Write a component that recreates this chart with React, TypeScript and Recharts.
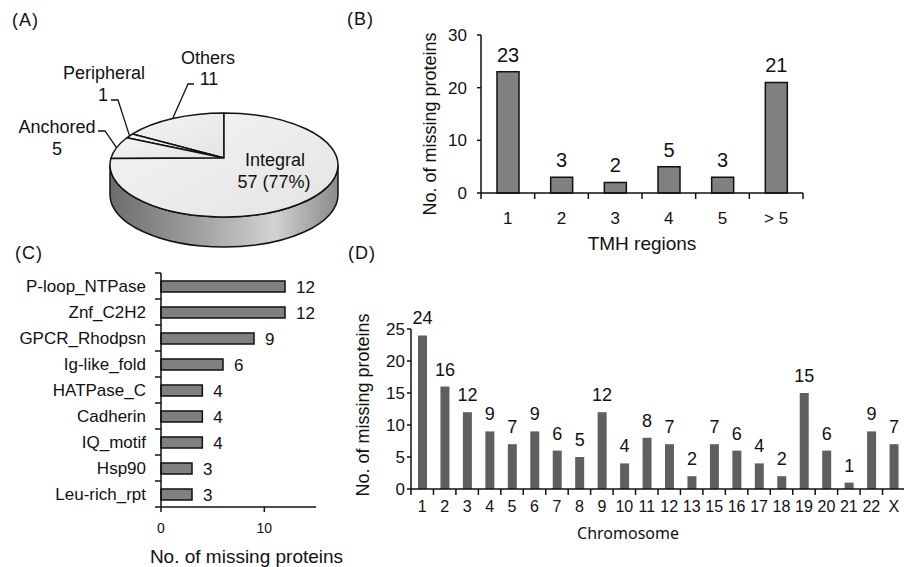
import { Bar, BarChart, LabelList, Pie, PieChart, XAxis, YAxis } from "recharts";

const FONT = '"Liberation Sans", Arial, Helvetica, sans-serif';
const INK = "#111111";

// (A) membrane protein types
const typeNames = ["Others", "Peripheral", "Anchored", "Integral"];
const typeCounts = [11, 1, 5, 57];

// (B) transmembrane helix regions
const tmhRegions = ["1", "2", "3", "4", "5", "> 5"];
const tmhCounts = [23, 3, 2, 5, 3, 21];

// (C) protein domains
const domainNames = [
	"P-loop_NTPase",
	"Znf_C2H2",
	"GPCR_Rhodpsn",
	"Ig-like_fold",
	"HATPase_C",
	"Cadherin",
	"IQ_motif",
	"Hsp90",
	"Leu-rich_rpt",
];
const domainCounts = [12, 12, 9, 6, 4, 4, 4, 3, 3];

// (D) chromosomes
const chromosomes = [
	"1", "2", "3", "4", "5", "6", "7", "8", "9", "10", "11",
	"12", "13", "15", "16", "17", "18", "19", "20", "21", "22", "X",
];
const chromosomeCounts = [24, 16, 12, 9, 7, 9, 6, 5, 12, 4, 8, 7, 2, 7, 6, 4, 2, 15, 6, 1, 9, 7];

const typeData = typeNames.map((name, i) => ({ name, value: typeCounts[i] }));
const tmhData = tmhRegions.map((region, i) => ({ region, count: tmhCounts[i] }));
const domainData = domainNames.map((name, i) => ({ name, count: domainCounts[i] }));
const chromData = chromosomes.map((chr, i) => ({ chr, count: chromosomeCounts[i] }));

// chart boxes
const B = { w: 410, h: 260, top: 35, right: 7, yw: 81, xh: 67 };
const C = { w: 370, h: 317, top: 23, right: 54, yw: 161, xh: 60 };
const D = { w: 580, h: 287, top: 49, right: 5, yw: 81, xh: 78 };
const MARK = 6;

// --- 3D pie helpers ---
const RY_RATIO = 52 / 114;
const RIM = 30;
const TILT = 7;
const rad = (d: number) => (d * Math.PI) / 180;
const rimPt = (cx: number, cy: number, rx: number, deg: number, drop = 0) => ({
	x: cx + rx * Math.cos(rad(deg)),
	y: cy + TILT + drop - rx * RY_RATIO * Math.sin(rad(deg)),
});

// where the callout texts sit, relative to the pie centre
const callouts = [
	{ t1: [-16, -100], t2: [-15, -79], line: [[-36, -74], [-30, -74]], pct: false },
	{ t1: [-120, -85], t2: [-121, -63], line: [[-106, -58], [-113, -58]], pct: false },
	{ t1: [-167, -31], t2: [-167, -9], line: [[-119, -27], [-126, -27]], pct: false },
	{ t1: [51, 2], t2: [50, 24], line: [], pct: true },
];

const renderSlice = (p: any) => {
	const { cx, cy, outerRadius: rx, startAngle, endAngle, midAngle, index, value, percent } = p;
	const ry = rx * RY_RATIO;
	const a = rimPt(cx, cy, rx, startAngle);
	const b = rimPt(cx, cy, rx, endAngle);
	const large = endAngle - startAngle > 180 ? 1 : 0;
	const top = `M${cx},${cy} L${a.x},${a.y} A${rx},${ry} 0 ${large} 0 ${b.x},${b.y} Z`;

	const sides: string[] = [];
	for (const base of [180, 540]) {
		const s1 = Math.max(startAngle, base);
		const s2 = Math.min(endAngle, base + 180);
		if (s2 > s1) {
			const q1 = rimPt(cx, cy, rx, s1);
			const q2 = rimPt(cx, cy, rx, s2);
			const q1d = rimPt(cx, cy, rx, s1, RIM);
			const q2d = rimPt(cx, cy, rx, s2, RIM);
			sides.push(
				`M${q1.x},${q1.y} A${rx},${ry} 0 0 0 ${q2.x},${q2.y} L${q2d.x},${q2d.y} A${rx},${ry} 0 0 1 ${q1d.x},${q1d.y} Z`,
			);
		}
	}

	const c = callouts[index];
	const edge = rimPt(cx, cy, rx, midAngle);
	const pts = [[edge.x, edge.y], ...c.line.map(([dx, dy]) => [cx + dx, cy + dy])];
	const second = c.pct ? `${value} (${Math.round(percent * 100)}%)` : String(value);

	return (
		<g key={`slice-${index}`}>
			{sides.map((d, i) => (
				<path key={i} d={d} fill="url(#pieSide)" stroke={INK} strokeWidth={1.5} />
			))}
			<path d={top} fill="url(#pieTop)" stroke={INK} strokeWidth={1.5} strokeLinejoin="round" />
			{c.line.length > 0 && (
				<polyline points={pts.map((q) => q.join(",")).join(" ")} fill="none" stroke={INK} strokeWidth={1.3} />
			)}
			<text x={cx + c.t1[0]} y={cy + c.t1[1]} textAnchor="middle" dominantBaseline="central" fontSize={18} fill={INK}>
				{typeNames[index]}
			</text>
			<text x={cx + c.t2[0]} y={cy + c.t2[1]} textAnchor="middle" dominantBaseline="central" fontSize={18} fill={INK}>
				{second}
			</text>
		</g>
	);
};

// category tick: label plus Excel-style tick marks on the band edges
const bottomTick = (margin: number, fontSize: number, plotWidth: number, n: number) => (props: any) => {
	const { x, y, payload, index } = props;
	const band = plotWidth / n;
	const ay = y - margin;
	const marks = [x - band / 2];
	if (index === n - 1) marks.push(x + band / 2);
	return (
		<g>
			{marks.map((mx) => (
				<line key={mx} x1={mx} x2={mx} y1={ay} y2={ay + MARK} stroke={INK} strokeWidth={1.5} />
			))}
			<text x={x} y={y} dy="0.71em" textAnchor="middle" fontSize={fontSize} fill={INK}>
				{payload.value}
			</text>
		</g>
	);
};

const leftTick = (margin: number, fontSize: number, plotHeight: number, n: number) => (props: any) => {
	const { x, y, payload, index } = props;
	const band = plotHeight / n;
	const ax = x + margin;
	const marks = [y - band / 2];
	if (index === n - 1) marks.push(y + band / 2);
	return (
		<g>
			{marks.map((my) => (
				<line key={my} x1={ax - MARK} x2={ax} y1={my} y2={my} stroke={INK} strokeWidth={1.5} />
			))}
			<text x={x} y={y} dy="0.355em" textAnchor="end" fontSize={fontSize} fill={INK}>
				{payload.value}
			</text>
		</g>
	);
};

// axis titles
const vTitle = (text: string, dx: number, dy: number, size: number) => (props: any) => {
	const vb = props.viewBox;
	const x = vb.x + dx;
	const y = vb.y + vb.height / 2 + dy;
	return (
		<text x={x} y={y} transform={`rotate(-90 ${x} ${y})`} textAnchor="middle" dominantBaseline="central" fontSize={size} fill={INK}>
			{text}
		</text>
	);
};
const hTitle = (text: string, dx: number, dy: number, size: number, family = FONT) => (props: any) => {
	const vb = props.viewBox;
	return (
		<text
			x={vb.x + vb.width / 2 + dx}
			y={vb.y + dy}
			textAnchor="middle"
			dominantBaseline="central"
			fontSize={size}
			fontFamily={family}
			fill={INK}
		>
			{text}
		</text>
	);
};

const axisLine = { stroke: INK, strokeWidth: 1.5 };
const tickLine = { stroke: INK, strokeWidth: 1.5 };

const PanelLetter = ({ text, left, top }: { text: string; left: number; top: number }) => (
	<div style={{ position: "absolute", left, top, fontSize: 18, lineHeight: "18px", letterSpacing: 1, color: INK }}>
		{text}
	</div>
);

export default function App() {
	return (
		<div
			style={{
				position: "absolute",
				left: 0,
				top: 0,
				width: 904,
				height: 567,
				overflow: "hidden",
				background: "#fff",
				fontFamily: FONT,
			}}
		>
			<PanelLetter text="(A)" left={12} top={11} />
			<PanelLetter text="(B)" left={347} top={10} />
			<PanelLetter text="(C)" left={15} top={244} />
			<PanelLetter text="(D)" left={348} top={244} />

			{/* (A) */}
			<div style={{ position: "absolute", left: 0, top: 0 }}>
				<PieChart width={340} height={260}>
					<defs>
						<linearGradient id="pieSide" x1="0" y1="0" x2="1" y2="0">
							<stop offset="0%" stopColor="#6c6c6c" />
							<stop offset="40%" stopColor="#a2a2a2" />
							<stop offset="72%" stopColor="#d2d2d2" />
							<stop offset="100%" stopColor="#8a8a8a" />
						</linearGradient>
						<linearGradient id="pieTop" x1="0" y1="0" x2="1" y2="1">
							<stop offset="0%" stopColor="#f4f4f4" />
							<stop offset="100%" stopColor="#e4e4e4" />
						</linearGradient>
					</defs>
					<Pie
						data={typeData}
						dataKey="value"
						nameKey="name"
						cx={219}
						cy={153}
						outerRadius={114}
						startAngle={90}
						endAngle={450}
						fill="none"
						stroke="none"
						label={renderSlice}
						labelLine={false}
						isAnimationActive={false}
					/>
				</PieChart>
			</div>

			{/* (B) */}
			<div style={{ position: "absolute", left: 400, top: 0 }}>
				<BarChart width={B.w} height={B.h} data={tmhData} margin={{ top: B.top, right: B.right, bottom: 0, left: 0 }}>
					<XAxis
						dataKey="region"
						interval={0}
						tickLine={false}
						tickSize={0}
						tickMargin={19}
						height={B.xh}
						axisLine={axisLine}
						tick={bottomTick(19, 17, B.w - B.yw - B.right, tmhRegions.length)}
						label={hTitle("TMH regions", 0, 50, 19)}
					/>
					<YAxis
						domain={[0, 30]}
						ticks={[0, 10, 20, 30]}
						width={B.yw}
						tickSize={4}
						tickMargin={10}
						axisLine={axisLine}
						tickLine={tickLine}
						tick={{ fontSize: 17, fill: INK }}
						label={vTitle("No. of missing proteins", 30, 10, 18)}
					/>
					<Bar dataKey="count" barSize={22} fill="#808080" stroke={INK} strokeWidth={1.5} isAnimationActive={false}>
						<LabelList dataKey="count" position="top" offset={10} fontSize={20} fill={INK} />
					</Bar>
				</BarChart>
			</div>

			{/* (C) */}
			<div style={{ position: "absolute", left: 0, top: 250 }}>
				<BarChart layout="vertical" width={C.w} height={C.h} data={domainData} margin={{ top: C.top, right: C.right, bottom: 0, left: 0 }}>
					<XAxis
						type="number"
						domain={[0, 15]}
						ticks={[0, 10]}
						height={C.xh}
						tickSize={5}
						tickMargin={11}
						axisLine={axisLine}
						tickLine={tickLine}
						tick={{ fontSize: 14, fill: INK }}
						label={hTitle("No. of missing proteins", 8, 49, 19)}
					/>
					<YAxis
						type="category"
						dataKey="name"
						interval={0}
						width={C.yw}
						tickLine={false}
						tickSize={0}
						tickMargin={15}
						axisLine={axisLine}
						tick={leftTick(15, 17, C.h - C.top - C.xh, domainNames.length)}
					/>
					<Bar dataKey="count" barSize={11} fill="#808080" stroke={INK} strokeWidth={1.5} isAnimationActive={false}>
						<LabelList dataKey="count" position="right" offset={11} fontSize={17} fill={INK} />
					</Bar>
				</BarChart>
			</div>

			{/* (D) */}
			<div style={{ position: "absolute", left: 330, top: 280 }}>
				<BarChart width={D.w} height={D.h} data={chromData} margin={{ top: D.top, right: D.right, bottom: 0, left: 0 }}>
					<XAxis
						dataKey="chr"
						interval={0}
						tickLine={false}
						tickSize={0}
						tickMargin={12}
						height={D.xh}
						axisLine={axisLine}
						tick={bottomTick(12, 16, D.w - D.yw - D.right, chromosomes.length)}
						label={hTitle("Chromosome", -30, 44, 16, '"Noto Sans", "Open Sans", sans-serif')}
					/>
					<YAxis
						domain={[0, 25]}
						ticks={[0, 5, 10, 15, 20, 25]}
						width={D.yw}
						tickSize={4}
						tickMargin={2}
						axisLine={axisLine}
						tickLine={tickLine}
						tick={{ fontSize: 17, fill: INK }}
						label={vTitle("No. of missing proteins", 33, -4, 18)}
					/>
					<Bar dataKey="count" barSize={9} fill="#5f5f5f" isAnimationActive={false}>
						<LabelList dataKey="count" position="top" offset={11} fontSize={18} fill={INK} />
					</Bar>
				</BarChart>
			</div>
		</div>
	);
}
